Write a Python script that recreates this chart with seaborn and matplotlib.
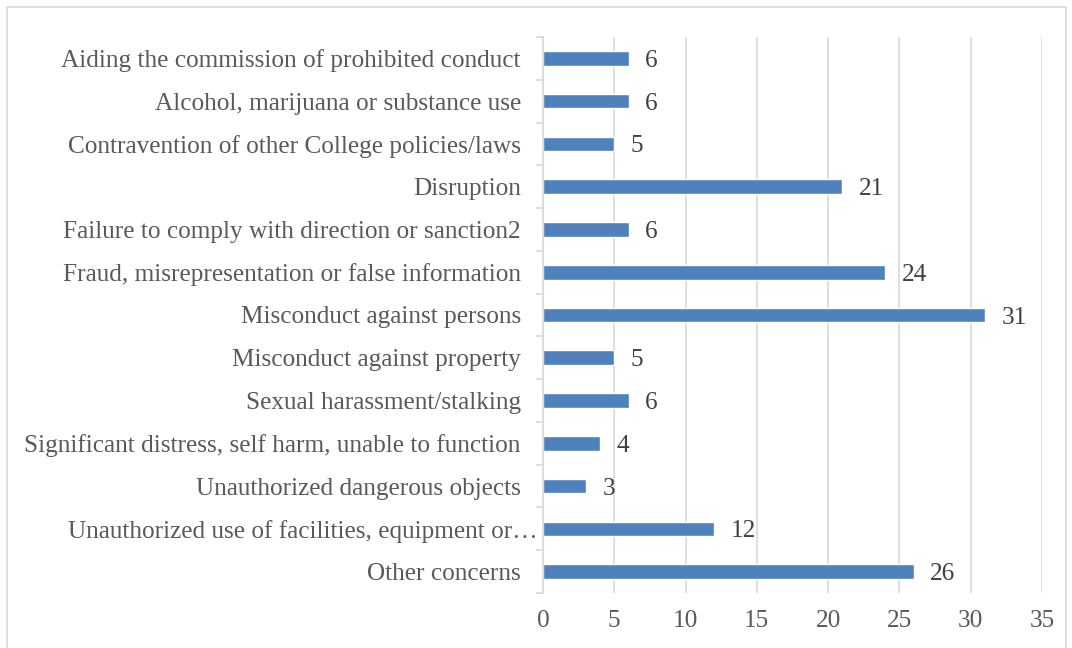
import matplotlib
matplotlib.use("Agg")
import matplotlib.pyplot as plt
import matplotlib.transforms as mtransforms
import seaborn as sns
import pandas as pd
from matplotlib.patches import Rectangle
from matplotlib.ticker import FixedLocator

categories = [
    "Aiding the commission of prohibited conduct",
    "Alcohol, marijuana or substance use",
    "Contravention of other College policies/laws",
    "Disruption",
    "Failure to comply with direction or sanction2",
    "Fraud, misrepresentation or false information",
    "Misconduct against persons",
    "Misconduct against property",
    "Sexual harassment/stalking",
    "Significant distress, self harm, unable to function",
    "Unauthorized dangerous objects",
    "Unauthorized use of facilities, equipment or\u2026",
    "Other concerns",
]
counts = [6, 6, 5, 21, 6, 24, 31, 5, 6, 4, 3, 12, 26]
x_ticks = [0, 5, 10, 15, 20, 25, 30, 35]

df = pd.DataFrame({"category": categories, "count": counts})

sns.set_theme(style="white")
plt.rcParams["font.family"] = ["Liberation Serif", "DejaVu Serif"]

W, H = 1072, 648
fig = plt.figure(figsize=(W / 100, H / 100), dpi=100)
ax = fig.add_axes([543 / W, 1 - 593 / H, (1042 - 543) / W, (593 - 37) / H])

sns.barplot(data=df, x="count", y="category", orient="h", color="#4F81BD",
            saturation=1, width=0.34, ax=ax)

label_color = "#595959"
fs = 18.2
labels = ax.bar_label(ax.containers[0], labels=[str(v) for v in counts], padding=12,
                      fontsize=fs, color="#404040")
for t in labels:
    t.set_verticalalignment("center_baseline")

ax.set_xlim(0, 35)
ax.xaxis.set_major_locator(FixedLocator(x_ticks))
ax.set_xticklabels([str(t) for t in x_ticks])
ax.set_ylim(len(categories) - 0.5, -0.5)
ax.set_xlabel("")
ax.set_ylabel("")

# vertical gridlines
ax.grid(axis="x", color="#d9d9d9", linewidth=1.2)
ax.set_axisbelow(True)

for side in ["top", "right", "bottom"]:
    ax.spines[side].set_visible(False)
ax.spines["left"].set_color("#d9d9d9")
ax.spines["left"].set_linewidth(1.2)

ax.tick_params(axis="x", length=0, pad=12.5, labelsize=fs, labelcolor=label_color)
ax.tick_params(axis="y", which="major", length=0, pad=16, labelsize=fs,
               labelcolor=label_color)
ax.yaxis.set_minor_locator(FixedLocator([i - 0.5 for i in range(len(categories) + 1)]))
ax.tick_params(axis="y", which="minor", length=5, width=1.2, color="#d9d9d9", left=True)

# the truncated label sits closer to the axis
for lbl in ax.get_yticklabels():
    if lbl.get_text().endswith("\u2026"):
        lbl.set_transform(lbl.get_transform()
                          + mtransforms.ScaledTranslation(17 / 100, 0, fig.dpi_scale_trans))

# outer chart border
fig.patches.append(Rectangle((7 / W, -0.05), (1066 - 7) / W, 1.05 - 7 / H,
                             transform=fig.transFigure, fill=False,
                             edgecolor="#d9d9d9", linewidth=1.2))

fig.savefig("out.png", dpi=100)
